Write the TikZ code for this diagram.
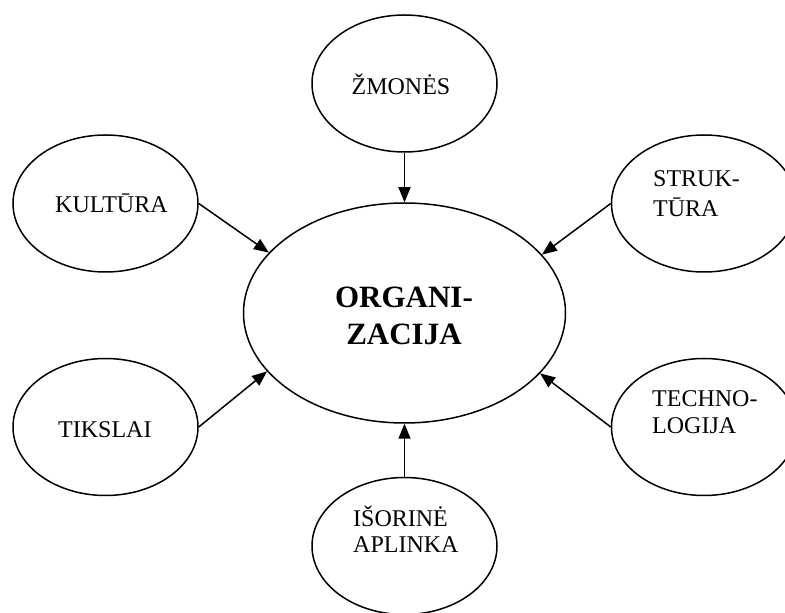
\documentclass[tikz,border=0pt]{standalone}
\usepackage{fontspec}
\setmainfont{Liberation Serif}
\usetikzlibrary{shapes.geometric,arrows.meta}

\tikzset{
  bubble/.style={draw, ellipse, line width=1.5pt, inner sep=0pt,
                 minimum width=185pt, minimum height=137pt},
  core/.style={draw, ellipse, line width=1.5pt, inner sep=0pt,
               minimum width=322pt, minimum height=220pt},
  lbl/.style={inner sep=0pt, font=\fontsize{24}{28}\selectfont},
  feed/.style={line width=1.5pt, -{Triangle[length=15pt,width=12pt]}}
}

\begin{document}
\begin{tikzpicture}[x=1pt,y=1pt]
  \useasboundingbox (0,0) rectangle (785,613);
  \clip (0,0) rectangle (785,613);

  % ellipses
  \node[core]   (org)          at (404.5,300)   {};
  \node[bubble] (zmones)       at (404.5,529.5) {};
  \node[bubble] (kultura)      at (105.5,409.5) {};
  \node[bubble] (tikslai)      at (105.5,186) {};
  \node[bubble] (struktura)    at (704,409.5) {};
  \node[bubble] (technologija) at (704,186)   {};
  \node[bubble] (isorine)      at (404.5,67)    {};

  % labels
  \node[inner sep=0pt, anchor=base, font=\fontsize{31}{37}\selectfont\bfseries] (t-org) at (404,305)
    {\begin{tabular}[t]{@{}c@{}}ORGANI-\\ZACIJA\end{tabular}};
  \node[lbl, anchor=base] (t-zmones) at (401,518) {ŽMONĖS};
  \node[lbl, anchor=base west] (t-kultura) at (55,400) {KULTŪRA};
  \node[lbl, anchor=base west] (t-tikslai) at (58,175) {TIKSLAI};
  \node[inner sep=0pt, anchor=base west, font=\fontsize{24}{30}\selectfont] (t-struktura) at (653,426)
    {\begin{tabular}[t]{@{}l@{}}STRUK-\\TŪRA\end{tabular}};
  \node[inner sep=0pt, anchor=base west, font=\fontsize{24}{27}\selectfont] (t-technologija) at (652,206)
    {\begin{tabular}[t]{@{}l@{}}TECHNO-\\LOGIJA\end{tabular}};
  \node[inner sep=0pt, anchor=base west, font=\fontsize{24}{26}\selectfont] (t-isorine) at (353,86)
    {\begin{tabular}[t]{@{}l@{}}IŠORINĖ\\APLINKA\end{tabular}};

  % influences pointing at the organisation
  \draw[feed] (zmones.south)       -- (org.north);
  \draw[feed] (isorine.north)      -- (org.south);
  \draw[feed] (kultura.east)       -- (org.156.6);
  \draw[feed] (tikslai.east)       -- (org.203.4);
  \draw[feed] (struktura.west)     -- (org.23.4);
  \draw[feed] (technologija.west)  -- (org.336.6);
\end{tikzpicture}
\end{document}
